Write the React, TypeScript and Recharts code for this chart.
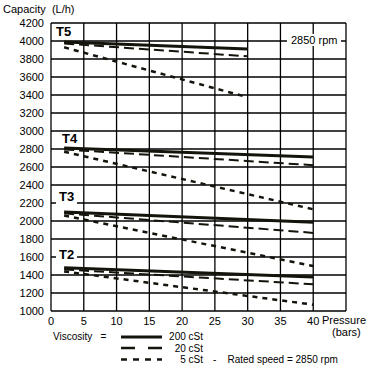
import React from 'react';
import {
  LineChart,
  Line,
  XAxis,
  YAxis,
  CartesianGrid,
} from 'recharts';

// pressure (bars) where every curve starts, and where each pump's curves end
const models = ['T5', 'T4', 'T3', 'T2'];
const startPressure = 2;
const endPressure = [30, 40, 40, 40];

// capacity (L/h) at start / end pressure, per viscosity
const cap200 = [
  [3990, 3910],
  [2810, 2710],
  [2100, 1985],
  [1480, 1378],
];
const cap20 = [
  [3972, 3830],
  [2795, 2620],
  [2085, 1868],
  [1462, 1297],
];
const cap5 = [
  [3930, 3375],
  [2770, 2130],
  [2060, 1500],
  [1440, 1070],
];

const viscosityLabels = ['200 cSt', '20 cSt', '5 cSt'];

const xTicks = [0, 5, 10, 15, 20, 25, 30, 35, 40, 45];
const yTicks = [1000, 1200, 1400, 1600, 1800, 2000, 2200, 2400, 2600, 2800, 3000, 3200, 3400, 3600, 3800, 4000, 4200];

const FONT = '"Liberation Sans", Arial, sans-serif';
const INK = '#15140c';

const toSeries = (pair: number[], i: number) => [
  { p: startPressure, c: pair[0] },
  { p: endPressure[i], c: pair[1] },
];

const txt: React.CSSProperties = {
  position: 'absolute',
  fontFamily: FONT,
  fontSize: 11,
  color: '#000',
  lineHeight: '12px',
  whiteSpace: 'nowrap',
};

const leg: React.CSSProperties = {
  ...txt,
  fontSize: 10,
  lineHeight: '11.5px',
};

const tag: React.CSSProperties = {
  ...txt,
  fontSize: 13,
  fontWeight: 'bold',
  lineHeight: '14px',
  background: '#fff',
  padding: '0 3px',
};

const rowTop = [331, 342.5, 354];

export default function App() {
  return (
    <div style={{ position: 'absolute', left: 0, top: 0, width: 368, height: 368, background: '#fff' }}>
      <LineChart
        width={368}
        height={368}
        margin={{ top: 23, right: 22, bottom: 37, left: 0 }}
      >
        <CartesianGrid stroke="#000" strokeWidth={1.3} strokeOpacity={1} />
        <XAxis
          type="number"
          dataKey="p"
          domain={[0, 45]}
          ticks={xTicks}
          interval={0}
          tickFormatter={(v: number) => (v === 45 ? '' : String(v))}
          tickLine={false}
          axisLine={false}
          tickSize={0}
          tickMargin={6}
          height={20}
          tick={{ fill: '#000', fontSize: 11, fontFamily: FONT }}
        />
        <YAxis
          type="number"
          domain={[1000, 4200]}
          ticks={yTicks}
          interval={0}
          tickLine={false}
          axisLine={false}
          tickSize={0}
          tickMargin={7}
          width={51}
          tick={{ fill: '#000', fontSize: 11, fontFamily: FONT }}
        />
        {models.map((m, i) => (
          <Line
            key={m + '200'}
            data={toSeries(cap200[i], i)}
            dataKey="c"
            stroke={INK}
            strokeWidth={3}
            dot={false}
            isAnimationActive={false}
          />
        ))}
        {models.map((m, i) => (
          <Line
            key={m + '20'}
            data={toSeries(cap20[i], i)}
            dataKey="c"
            stroke={INK}
            strokeWidth={2}
            strokeDasharray="10 5"
            dot={false}
            isAnimationActive={false}
          />
        ))}
        {models.map((m, i) => (
          <Line
            key={m + '5'}
            data={toSeries(cap5[i], i)}
            dataKey="c"
            stroke={INK}
            strokeWidth={2.5}
            strokeDasharray="5 5"
            dot={false}
            isAnimationActive={false}
          />
        ))}
      </LineChart>

      <div style={{ ...txt, left: 3, top: 3 }}>Capacity&nbsp;&nbsp;(L/h)</div>

      <div style={{ ...tag, left: 53, top: 25, background: 'transparent' }}>T5</div>
      <div style={{ ...tag, left: 59, top: 132, background: 'transparent' }}>T4</div>
      <div style={{ ...tag, left: 56, top: 190 }}>T3</div>
      <div style={{ ...tag, left: 56, top: 248 }}>T2</div>

      <div style={{ ...txt, left: 287, top: 34, background: '#fff', padding: '0 4px' }}>2850 rpm</div>

      <div style={{ ...txt, left: 322, top: 314 }}>Pressure</div>
      <div style={{ ...txt, left: 332, top: 326 }}>(bars)</div>

      <div style={{ ...leg, left: 53, top: rowTop[0] }}>Viscosity&nbsp;&nbsp;&nbsp;=</div>
      <svg style={{ position: 'absolute', left: 0, top: 0 }} width={368} height={368}>
        <line x1={121} x2={162} y1={337} y2={337} stroke={INK} strokeWidth={3} />
        <line x1={121} x2={162} y1={348} y2={348} stroke={INK} strokeWidth={2.5} strokeDasharray="14 13" />
        <line x1={121} x2={162} y1={359.5} y2={359.5} stroke={INK} strokeWidth={2.5} strokeDasharray="6 6" />
      </svg>
      {viscosityLabels.map((l, i) => (
        <div key={l} style={{ ...leg, left: 150, top: rowTop[i], width: 53, textAlign: 'right' }}>
          {l}
        </div>
      ))}
      <div style={{ ...leg, left: 213, top: rowTop[2] }}>-&nbsp;&nbsp;&nbsp;&nbsp;Rated speed = 2850 rpm</div>
    </div>
  );
}
